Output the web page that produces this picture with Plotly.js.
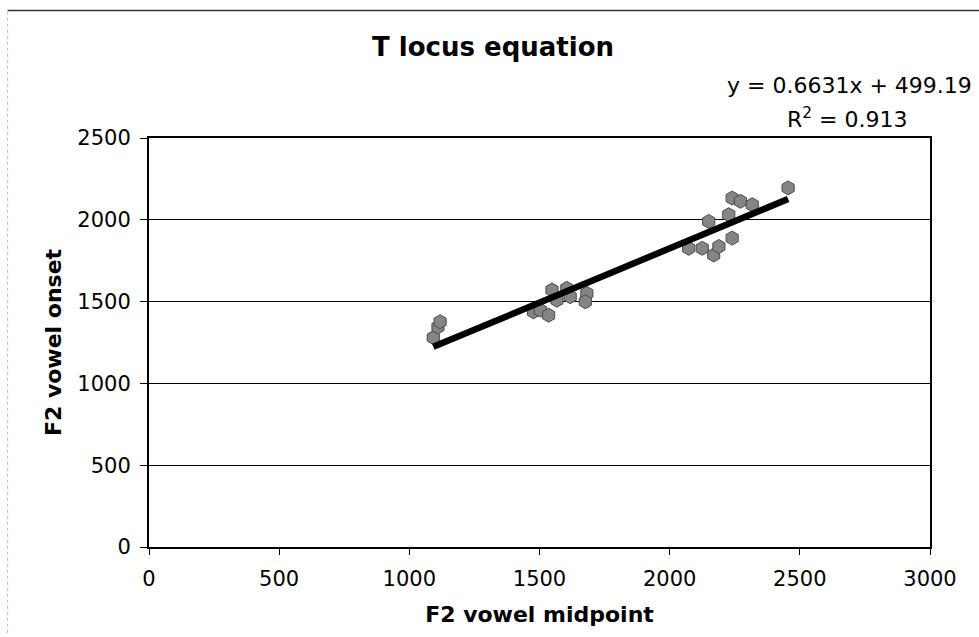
<!DOCTYPE html>
<html>
<head>
<meta charset="utf-8">
<script src="https://cdn.plot.ly/plotly-3.0.1.min.js"></script>
<style>html,body{margin:0;padding:0;background:#fff;}#chart{width:979px;height:637px;}</style>
</head>
<body>
<div id="chart"></div>
<script>
// F2 vowel midpoint (Hz)
const midpoint = [1092, 1110, 1118,
  1477, 1503, 1535, 1548, 1567, 1605, 1618, 1682, 1676,
  2073, 2125, 2150, 2169, 2189, 2227, 2240, 2240, 2272, 2317, 2455];
// F2 vowel onset (Hz)
const onset = [1280, 1345, 1377,
  1438, 1448, 1417, 1571, 1509, 1581, 1530, 1550, 1499,
  1826, 1826, 1990, 1785, 1837, 2031, 1888, 2133, 2113, 2092, 2195];
const slope = 0.6631;
const intercept = 499.19;
const rSquared = 0.913;
const xTicks = [0, 500, 1000, 1500, 2000, 2500, 3000];
const yTicks = [0, 500, 1000, 1500, 2000, 2500];

const xMin = Math.min(...midpoint), xMax = Math.max(...midpoint);
const trendX = [xMin, xMax];
const trendY = trendX.map(v => slope * v + intercept);

const font = 'DejaVu Sans, Verdana, sans-serif';

const data = [
  {type: 'scatter', mode: 'markers', x: midpoint, y: onset,
   marker: {symbol: 'hexagon', size: 14, color: '#858585', line: {color: '#4a4a4a', width: 1}},
   showlegend: false},
  {type: 'scatter', mode: 'lines', x: trendX, y: trendY,
   line: {color: '#000', width: 6.5}, hoverinfo: 'skip', showlegend: false}
];

const layout = {
  width: 979, height: 637,
  margin: {l: 149, r: 49, t: 138, b: 90},
  paper_bgcolor: '#fff', plot_bgcolor: '#fff',
  font: {family: font, color: '#000', size: 21},
  title: {text: '<b>T locus equation</b>', font: {family: font, size: 26, color: '#000'},
          xref: 'container', yref: 'container', x: 0.5036, xanchor: 'center', y: 0.926, yanchor: 'middle'},
  xaxis: {range: [0, 3000], tickvals: xTicks, ticktext: xTicks.map(String),
          ticks: 'outside', ticklen: 6, tickcolor: '#000', tickwidth: 1,
          ticklabelstandoff: 6,
          showline: true, linecolor: '#000', linewidth: 2, mirror: true,
          showgrid: false, zeroline: false,
          tickfont: {family: font, size: 21},
          title: {text: '<b>F2 vowel midpoint</b>', font: {family: font, size: 22}, standoff: 16}},
  yaxis: {range: [0, 2500], tickvals: yTicks, ticktext: yTicks.map(String),
          ticks: 'outside', ticklen: 7, tickcolor: '#000', tickwidth: 1,
          ticklabelstandoff: 5,
          showline: true, linecolor: '#000', linewidth: 2, mirror: true,
          showgrid: true, gridcolor: '#000', gridwidth: 1, zeroline: false,
          tickfont: {family: font, size: 21},
          title: {text: '<b>F2 vowel onset</b>', font: {family: font, size: 22}, standoff: 10}},
  annotations: [
    {xref: 'paper', yref: 'paper', x: 0.897, y: 1.129, xanchor: 'center', yanchor: 'middle',
     text: 'y = ' + slope + 'x + ' + intercept, showarrow: false, font: {family: font, size: 22}},
    {xref: 'paper', yref: 'paper', x: 0.895, y: 1.049, xanchor: 'center', yanchor: 'middle',
     text: 'R<sup>2</sup> = ' + rSquared, showarrow: false, font: {family: font, size: 22}}
  ],
  shapes: [
    {type: 'line', xref: 'paper', yref: 'paper', x0: -0.181, x1: 1.07, y0: 1.312, y1: 1.312,
     line: {color: '#333', width: 1.5}},
    {type: 'line', xref: 'paper', yref: 'paper', x0: -0.181, x1: -0.181, y0: -0.21, y1: 1.312,
     line: {color: '#bbb', width: 1, dash: 'dot'}}
  ]
};

Plotly.newPlot('chart', data, layout, {displayModeBar: false, staticPlot: true});
</script>
</body>
</html>
